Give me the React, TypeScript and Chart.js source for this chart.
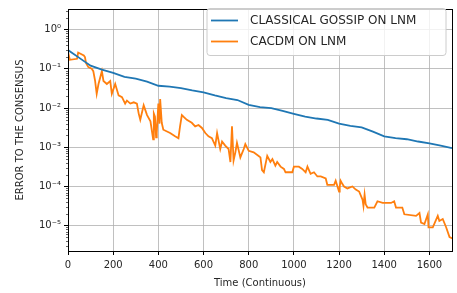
import React, { useEffect, useRef } from "react";
import { Chart, registerables } from "chart.js";

Chart.register(...registerables);

const seriesNames = ["CLASSICAL GOSSIP ON LNM", "CACDM ON LNM"];
const seriesColors = ["#1f77b4", "#ff7f0e"];

const blueT = [0, 50, 100, 150, 200, 250, 300, 350, 400, 450, 500, 550, 600, 650, 700, 750, 800, 850, 900, 950, 1000, 1050, 1100, 1150, 1200, 1250, 1300, 1350, 1400, 1450, 1500, 1550, 1600, 1650, 1700];
const blueV = [0.3, 0.19, 0.12, 0.095, 0.079, 0.062, 0.056, 0.047, 0.037, 0.035, 0.032, 0.028, 0.025, 0.021, 0.018, 0.016, 0.012, 0.0105, 0.01, 0.0085, 0.0071, 0.006, 0.0054, 0.005, 0.004, 0.0035, 0.0032, 0.0025, 0.0019, 0.0017, 0.0016, 0.0014, 0.00126, 0.0011, 0.00095];

const orangeT = [0, 8, 40, 45, 70, 75, 80, 90, 105, 112, 120, 127, 135, 150, 157, 172, 187, 194, 209, 224, 239, 253, 261, 276, 291, 305, 313, 320, 335, 350, 365, 377, 380, 385, 390, 393, 400, 405, 408, 415, 422, 452, 474, 489, 496, 504, 511, 526, 548, 563, 578, 593, 608, 622, 637, 652, 660, 674, 682, 696, 711, 719, 726, 733, 741, 748, 763, 778, 785, 800, 822, 844, 852, 859, 867, 882, 896, 905, 918, 926, 941, 956, 963, 993, 1000, 1022, 1037, 1052, 1060, 1074, 1089, 1104, 1119, 1141, 1148, 1178, 1185, 1200, 1203, 1207, 1215, 1222, 1237, 1259, 1274, 1289, 1304, 1308, 1313, 1318, 1326, 1356, 1370, 1393, 1430, 1444, 1452, 1480, 1489, 1541, 1556, 1563, 1578, 1593, 1596, 1615, 1637, 1644, 1659, 1674, 1689, 1704];
const orangeV = [0.27, 0.17, 0.18, 0.26, 0.22, 0.2, 0.14, 0.11, 0.1, 0.087, 0.049, 0.023, 0.041, 0.087, 0.049, 0.041, 0.049, 0.023, 0.041, 0.021, 0.019, 0.013, 0.0155, 0.013, 0.014, 0.013, 0.0072, 0.005, 0.0117, 0.0066, 0.0046, 0.0016, 0.0072, 0.006, 0.0018, 0.0023, 0.013, 0.004, 0.017, 0.0042, 0.0028, 0.0023, 0.0019, 0.0017, 0.0034, 0.0066, 0.006, 0.005, 0.0042, 0.0034, 0.0037, 0.0031, 0.0023, 0.0019, 0.0017, 0.0011, 0.0023, 0.0009, 0.0014, 0.0011, 0.0009, 0.00042, 0.0034, 0.00046, 0.00074, 0.0013, 0.00055, 0.0009, 0.0012, 0.00081, 0.00074, 0.0006, 0.00055, 0.00026, 0.00023, 0.0006, 0.00042, 0.0005, 0.00034, 0.00042, 0.00032, 0.00028, 0.00023, 0.00023, 0.00032, 0.00032, 0.00028, 0.00023, 0.00032, 0.00021, 0.00023, 0.00018, 0.00018, 0.00016, 0.00011, 0.00011, 0.00014, 0.000074, 0.0001, 0.00014, 0.000115, 0.0001, 0.000089, 0.0001, 0.000083, 0.000074, 0.000046, 0.000032, 0.000062, 0.000035, 0.000029, 0.000029, 0.000042, 0.000038, 0.000038, 0.000042, 0.000029, 0.000029, 0.0000195, 0.0000178, 0.000021, 0.000012, 0.000011, 0.0000195, 0.0000091, 0.0000091, 0.0000178, 0.0000132, 0.0000148, 0.0000091, 0.0000051, 0.0000047];

const xTickValues = [0, 200, 400, 600, 800, 1000, 1200, 1400, 1600];
const yTickValues = [1e-5, 1e-4, 1e-3, 1e-2, 1e-1, 1];
const yTickLabels = ["10\u207B\u2075", "10\u207B\u2074", "10\u207B\u00B3", "10\u207B\u00B2", "10\u207B\u00B9", "10\u2070"];
const xMin = 0;
const xMax = 1700;
const yMin = 2.26e-6;
const yMax = 3.35;
const xTitle = "Time (Continuous)";
const yTitle = "ERROR TO THE CONSENSUS";

const FONT = "'DejaVu Sans', sans-serif";
const TEXT = "#262626";

const decorPlugin = {
  id: "decor",
  afterDraw(chart: any) {
    const ctx = chart.ctx;
    const a = chart.chartArea;
    const ys = chart.scales.y;
    ctx.save();
    ctx.strokeStyle = "#000";
    ctx.lineWidth = 0.6;
    for (let e = -6; e <= 0; e++) {
      for (let m = 2; m <= 9; m++) {
        const v = m * Math.pow(10, e);
        if (v < yMin || v > yMax) continue;
        const py = Math.round(ys.getPixelForValue(v)) + 0.5;
        ctx.beginPath();
        ctx.moveTo(a.left - 2, py);
        ctx.lineTo(a.left, py);
        ctx.stroke();
      }
    }
    ctx.lineWidth = 1;
    ctx.strokeStyle = "#000";
    ctx.strokeRect(Math.round(a.left) + 0.5, Math.round(a.top) + 0.5, Math.round(a.right - a.left), Math.round(a.bottom - a.top));
    const bx = 207, by = 8.5, bw = 239, bh = 47, r = 3;
    ctx.beginPath();
    ctx.moveTo(bx + r, by);
    ctx.lineTo(bx + bw - r, by);
    ctx.quadraticCurveTo(bx + bw, by, bx + bw, by + r);
    ctx.lineTo(bx + bw, by + bh - r);
    ctx.quadraticCurveTo(bx + bw, by + bh, bx + bw - r, by + bh);
    ctx.lineTo(bx + r, by + bh);
    ctx.quadraticCurveTo(bx, by + bh, bx, by + bh - r);
    ctx.lineTo(bx, by + r);
    ctx.quadraticCurveTo(bx, by, bx + r, by);
    ctx.closePath();
    ctx.fillStyle = "rgba(255,255,255,0.8)";
    ctx.fill();
    ctx.strokeStyle = "#cccccc";
    ctx.lineWidth = 1;
    ctx.stroke();
    const rows = [20.5, 41.5];
    seriesNames.forEach((name, i) => {
      ctx.strokeStyle = seriesColors[i];
      ctx.lineWidth = 1.8;
      ctx.beginPath();
      ctx.moveTo(211, rows[i]);
      ctx.lineTo(238, rows[i]);
      ctx.stroke();
      ctx.fillStyle = TEXT;
      ctx.font = "12px " + FONT;
      ctx.textBaseline = "middle";
      ctx.textAlign = "left";
      ctx.fillText(name, 250, rows[i] + 0.5);
    });
    ctx.restore();
  },
};

export default function App() {
  const ref = useRef<HTMLCanvasElement | null>(null);
  useEffect(() => {
    document.body.style.margin = "0";
    const canvas = ref.current;
    if (!canvas) return;
    const chart = new Chart(canvas, {
      type: "line",
      data: {
        datasets: [
          {
            label: seriesNames[0],
            data: blueT.map((t, i) => ({ x: t, y: blueV[i] })),
            borderColor: seriesColors[0],
            borderWidth: 1.8,
            pointRadius: 0,
            tension: 0,
            fill: false,
          },
          {
            label: seriesNames[1],
            data: orangeT.map((t, i) => ({ x: t, y: orangeV[i] })),
            borderColor: seriesColors[1],
            borderWidth: 1.8,
            pointRadius: 0,
            tension: 0,
            fill: false,
          },
        ],
      },
      options: {
        animation: false,
        responsive: false,
        devicePixelRatio: 1,
        layout: { padding: { left: 0, right: 5, top: 3, bottom: 0 } },
        plugins: { legend: { display: false }, tooltip: { enabled: false } },
        scales: {
          x: {
            type: "linear",
            min: xMin,
            max: xMax,
            afterBuildTicks: (s: any) => {
              s.ticks = xTickValues.map((v) => ({ value: v }));
            },
            afterFit: (s: any) => {
              s.height = 42;
            },
            ticks: {
              color: TEXT,
              font: { family: FONT, size: 10 },
              padding: 4,
              maxRotation: 0,
              callback: (v: any) => String(v),
            },
            grid: { color: "#b0b0b0", lineWidth: 0.8, tickColor: "#000", tickLength: 4, tickWidth: 1 },
            border: { display: false },
            title: { display: true, text: xTitle, color: TEXT, font: { family: FONT, size: 10 }, padding: { top: 0, bottom: 4 } },
          },
          y: {
            type: "logarithmic",
            min: yMin,
            max: yMax,
            afterBuildTicks: (s: any) => {
              s.ticks = yTickValues.map((v) => ({ value: v }));
            },
            afterFit: (s: any) => {
              s.width = 68;
            },
            ticks: {
              color: TEXT,
              font: { family: FONT, size: 10 },
              padding: 3,
              callback: (v: any) => {
                const idx = yTickValues.findIndex((t) => Math.abs(t - v) / t < 1e-6);
                return idx >= 0 ? yTickLabels[idx] : "";
              },
            },
            grid: { color: "#b0b0b0", lineWidth: 0.8, tickColor: "#000", tickLength: 4, tickWidth: 1 },
            border: { display: false },
            title: { display: true, text: yTitle, color: TEXT, font: { family: FONT, size: 10 }, padding: { top: 14, bottom: 0 } },
          },
        },
      },
      plugins: [decorPlugin],
    } as any);
    return () => chart.destroy();
  }, []);
  return (
    <div style={{ position: "absolute", left: 0, top: 0, width: 457, height: 293 }}>
      <canvas ref={ref} width={457} height={293} />
    </div>
  );
}
